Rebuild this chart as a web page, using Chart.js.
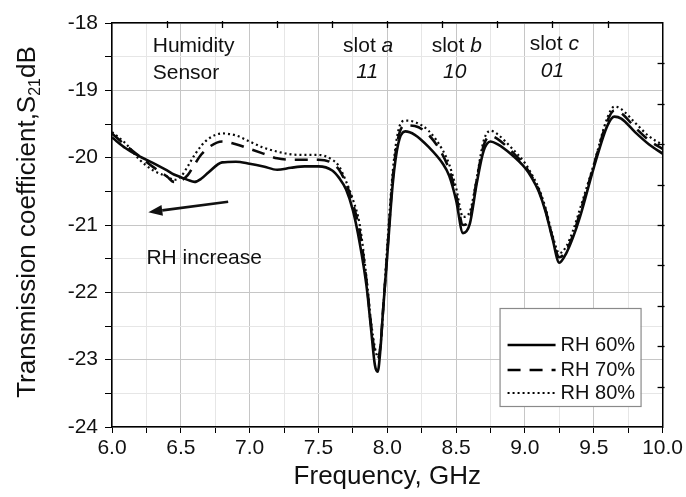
<!DOCTYPE html>
<html><head><meta charset="utf-8">
<script src="https://cdn.jsdelivr.net/npm/chart.js@4/dist/chart.umd.min.js"></script>
<style>html,body{margin:0;padding:0;background:#fff;}#wrap{width:686px;height:497px;}</style>
</head><body><div id="wrap"><canvas id="c" width="686" height="497"></canvas></div>
<script>
// ---- data ----
const frequency = [6.0, 6.1, 6.2, 6.3, 6.4, 6.45, 6.5, 6.55, 6.6, 6.65, 6.7, 6.8, 6.9, 7.0, 7.1, 7.2, 7.3, 7.4, 7.5, 7.6, 7.65, 7.7, 7.75, 7.8, 7.85, 7.88, 7.91, 7.93, 7.95, 7.97, 8.0, 8.04, 8.08, 8.13, 8.2, 8.3, 8.4, 8.45, 8.5, 8.55, 8.6, 8.65, 8.7, 8.75, 8.8, 8.9, 9.0, 9.05, 9.1, 9.15, 9.2, 9.25, 9.3, 9.35, 9.4, 9.5, 9.6, 9.65, 9.7, 9.8, 9.9, 10.0];
const rh60 = [-19.70, -19.86, -19.98, -20.08, -20.19, -20.25, -20.29, -20.33, -20.36, -20.31, -20.22, -20.07, -20.06, -20.09, -20.13, -20.18, -20.15, -20.13, -20.13, -20.19, -20.30, -20.47, -20.78, -21.27, -21.92, -22.50, -23.08, -23.18, -22.85, -22.25, -21.45, -20.38, -19.79, -19.61, -19.66, -19.84, -20.08, -20.27, -20.63, -21.12, -20.98, -20.38, -19.90, -19.76, -19.80, -19.95, -20.15, -20.30, -20.50, -20.80, -21.20, -21.56, -21.42, -21.18, -20.88, -20.15, -19.52, -19.39, -19.42, -19.62, -19.80, -19.94];
const rh70 = [-19.64, -19.82, -19.98, -20.14, -20.28, -20.36, -20.34, -20.26, -20.10, -19.95, -19.85, -19.76, -19.80, -19.87, -19.94, -20.01, -20.03, -20.03, -20.03, -20.08, -20.18, -20.38, -20.68, -21.10, -21.85, -22.45, -22.90, -22.98, -22.80, -22.25, -21.40, -20.30, -19.70, -19.52, -19.53, -19.66, -19.95, -20.18, -20.55, -21.00, -20.90, -20.33, -19.82, -19.68, -19.72, -19.90, -20.12, -20.28, -20.48, -20.78, -21.18, -21.48, -21.38, -21.15, -20.82, -20.12, -19.45, -19.30, -19.34, -19.55, -19.74, -19.87];
const rh80 = [-19.62, -19.79, -20.03, -20.19, -20.28, -20.33, -20.28, -20.13, -19.96, -19.82, -19.72, -19.64, -19.67, -19.76, -19.85, -19.91, -19.95, -19.96, -19.96, -20.03, -20.13, -20.35, -20.62, -21.00, -21.80, -22.40, -22.82, -22.95, -22.80, -22.25, -21.30, -20.20, -19.60, -19.45, -19.47, -19.60, -19.88, -20.10, -20.45, -20.88, -20.80, -20.30, -19.75, -19.60, -19.65, -19.85, -20.08, -20.25, -20.45, -20.75, -21.15, -21.42, -21.32, -21.08, -20.76, -20.10, -19.40, -19.24, -19.28, -19.48, -19.68, -19.81];
const seriesLabels = ['RH 60%', 'RH 70%', 'RH 80%'];
const xTickValues = [6.0, 6.5, 7.0, 7.5, 8.0, 8.5, 9.0, 9.5, 10.0];
const yTickValues = [-18, -19, -20, -21, -22, -23, -24];

const FONT = '"Liberation Sans", Arial, Helvetica, sans-serif';
const near = (v, step) => Math.abs(v / step - Math.round(v / step)) < 1e-6;
const pts = arr => frequency.map((f, i) => ({x: f, y: arr[i]}));

const styles = [
  {borderWidth: 2.6, borderDash: []},
  {borderWidth: 2.6, borderDash: [13, 9]},
  {borderWidth: 2.2, borderDash: [2, 3]}
];

const annotationPlugin = {
  id: 'annot',
  afterDatasetsDraw(chart) {
    const {ctx, scales: {x, y}} = chart;
    const P = (a, b) => [x.getPixelForValue(a), y.getPixelForValue(b)];
    ctx.save();
    ctx.fillStyle = '#111';
    ctx.textBaseline = 'middle';
    const nf = '21px ' + FONT, itf = 'italic 21px ' + FONT;
    ctx.font = nf; ctx.textAlign = 'left';
    let p = P(6.296, -18.34); ctx.fillText('Humidity', p[0], p[1]);
    p = P(6.296, -18.74); ctx.fillText('Sensor', p[0], p[1]);
    const slots = [['a', '11', 7.861, 7.854, -18.35, -18.73], ['b', '10', 8.505, 8.49, -18.35, -18.73], ['c', '01', 9.214, 9.20, -18.32, -18.71]];
    slots.forEach(s => {
      ctx.font = nf; const w1 = ctx.measureText('slot ').width;
      ctx.font = itf; const w2 = ctx.measureText(s[0]).width;
      let q = P(s[2], s[4]);
      const x0 = q[0] - (w1 + w2) / 2;
      ctx.textAlign = 'left';
      ctx.font = nf; ctx.fillText('slot ', x0, q[1]);
      ctx.font = itf; ctx.fillText(s[0], x0 + w1, q[1]);
      q = P(s[3], s[5]);
      ctx.textAlign = 'center'; ctx.font = itf; ctx.fillText(s[1], q[0], q[1]);
    });
    ctx.font = nf; ctx.textAlign = 'left';
    p = P(6.25, -21.5); ctx.fillText('RH increase', p[0], p[1]);
    const a0 = P(6.844, -20.654), a1 = P(6.264, -20.81);
    const ang = Math.atan2(a1[1] - a0[1], a1[0] - a0[0]);
    const hl = 14, hw = 5.5;
    const bx = a1[0] - hl * Math.cos(ang), by = a1[1] - hl * Math.sin(ang);
    ctx.strokeStyle = '#111'; ctx.lineWidth = 2.6;
    ctx.beginPath(); ctx.moveTo(a0[0], a0[1]); ctx.lineTo(bx, by); ctx.stroke();
    ctx.beginPath();
    ctx.moveTo(a1[0], a1[1]);
    ctx.lineTo(bx + hw * Math.sin(ang), by - hw * Math.cos(ang));
    ctx.lineTo(bx - hw * Math.sin(ang), by + hw * Math.cos(ang));
    ctx.closePath(); ctx.fill();

    ctx.strokeStyle = '#000'; ctx.lineWidth = 1.3;
    const x2 = chart.scales.x2, y2 = chart.scales.y2;
    x2.ticks.forEach(t => {
      if (t.value <= 6.001 || t.value >= 9.999) return;
      const xx = Math.round(x2.getPixelForValue(t.value)) + 0.5;
      ctx.beginPath(); ctx.moveTo(xx, x2.bottom - 2); ctx.lineTo(xx, x2.bottom + 5); ctx.stroke();
    });
    y2.ticks.forEach(t => {
      if (t.value <= -23.999 || t.value >= -18.001) return;
      const yy = Math.round(y2.getPixelForValue(t.value)) + 0.5;
      ctx.beginPath(); ctx.moveTo(y2.left + 2, yy); ctx.lineTo(y2.left - 5, yy); ctx.stroke();
    });

    const ca = chart.chartArea;
    const L = ca.right - 163, T = ca.bottom - 119, W = 141, H = 98;
    ctx.fillStyle = '#fff'; ctx.fillRect(L, T, W, H);
    ctx.strokeStyle = '#8a8a8a'; ctx.lineWidth = 1.2; ctx.strokeRect(L + 0.5, T + 0.5, W, H);
    const offs = [37, 62, 85];
    chart.data.datasets.forEach((ds, i) => {
      const yy = T + offs[i];
      ctx.strokeStyle = '#000'; ctx.lineWidth = ds.borderWidth; ctx.setLineDash(ds.borderDash);
      ctx.beginPath(); ctx.moveTo(L + 8, yy); ctx.lineTo(L + 56, yy); ctx.stroke();
      ctx.setLineDash([]);
      ctx.fillStyle = '#111'; ctx.font = '20px ' + FONT; ctx.textAlign = 'left'; ctx.textBaseline = 'middle';
      ctx.fillText(ds.label, L + 61, yy);
    });

    const cy = (ca.top + ca.bottom) / 2 - 3;
    ctx.save();
    ctx.translate(28, cy); ctx.rotate(-Math.PI / 2);
    ctx.fillStyle = '#111'; ctx.textAlign = 'left'; ctx.textBaseline = 'middle';
    const big = '26px ' + FONT, small = '16px ' + FONT;
    ctx.font = big; const t1 = 'Transmission coefficient,S'; const w1 = ctx.measureText(t1).width; const w3 = ctx.measureText('dB').width;
    ctx.font = small; const w2 = ctx.measureText('21').width;
    let sx = -(w1 + w2 + w3) / 2;
    ctx.font = big; ctx.fillText(t1, sx, 0);
    ctx.font = small; ctx.fillText('21', sx + w1, 8);
    ctx.font = big; ctx.fillText('dB', sx + w1 + w2, 0);
    ctx.restore();
    ctx.restore();
  }
};

new Chart(document.getElementById('c'), {
  type: 'line',
  data: {
    datasets: [rh60, rh70, rh80].map((arr, i) => ({
      label: seriesLabels[i],
      data: pts(arr),
      borderColor: '#0a0a0a',
      borderWidth: styles[i].borderWidth,
      borderDash: styles[i].borderDash,
      pointRadius: 0,
      cubicInterpolationMode: 'monotone',
      fill: false
    }))
  },
  options: {
    responsive: false, animation: false, devicePixelRatio: 1,
    layout: {padding: 0},
    plugins: {legend: {display: false}, tooltip: {enabled: false}},
    scales: {
      x: {
        type: 'linear', position: 'bottom', min: 6, max: 10,
        afterBuildTicks: s => { const t = []; for (let v = 6; v <= 10.0001; v += 0.25) t.push({value: Math.round(v * 100) / 100}); s.ticks = t; },
        ticks: {autoSkip: false, maxRotation: 0, color: '#111', font: {family: FONT, size: 21}, padding: 3,
          callback: v => xTickValues.some(t => Math.abs(t - v) < 1e-6) ? v.toFixed(1) : ''},
        grid: {color: c => (c.tick && near(c.tick.value, 0.5)) ? '#c6c6c6' : '#e6e6e6', lineWidth: 1, tickColor: '#000', tickLength: 6},
        border: {color: '#000', width: 1.5},
        title: {display: true, text: 'Frequency, GHz', color: '#111', font: {family: FONT, size: 26}, padding: {top: 0, bottom: 5}},
        afterFit: s => { s.height = 70; }
      },
      x2: {
        type: 'linear', position: 'top', min: 6, max: 10,
        ticks: {display: false, stepSize: 0.4},
        grid: {display: false},
        border: {color: '#000', width: 1.5},
        afterFit: s => { s.height = 23; }
      },
      y: {
        type: 'linear', position: 'left', min: -24, max: -18,
        ticks: {stepSize: 0.5, autoSkip: false, color: '#111', font: {family: FONT, size: 21}, padding: 7,
          callback: v => yTickValues.some(t => Math.abs(t - v) < 1e-6) ? String(v) : ''},
        grid: {color: c => (c.tick && near(c.tick.value, 1)) ? '#c6c6c6' : '#e6e6e6', lineWidth: 1, tickColor: '#000', tickLength: 7},
        border: {color: '#000', width: 1.5},
        afterFit: s => { s.width = 112; }
      },
      y2: {
        type: 'linear', position: 'right', min: -24, max: -18,
        ticks: {display: false, stepSize: 0.6},
        grid: {display: false},
        border: {color: '#000', width: 1.5},
        afterFit: s => { s.width = 23; }
      }
    }
  },
  plugins: [annotationPlugin]
});
</script>
</body></html>
